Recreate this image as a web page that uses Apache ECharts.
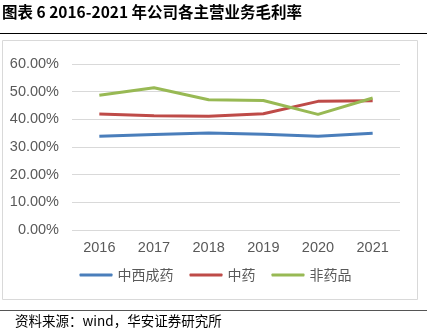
<!DOCTYPE html>
<html><head><meta charset="utf-8">
<script src="https://cdn.jsdelivr.net/npm/echarts@6/dist/echarts.min.js"></script>
<style>html,body{margin:0;padding:0;background:#fff}#c{width:431px;height:330px}</style>
</head><body><div id="c"></div>
<script>
var categories = ['2016','2017','2018','2019','2020','2021'];
var seriesNames = ['中西成药','中药','非药品'];
var zhongxi = [33.9, 34.5, 35.1, 34.6, 33.9, 35.0];
var zhongyao = [41.9, 41.3, 41.1, 42.0, 46.5, 46.7];
var feiyao = [48.7, 51.4, 47.1, 46.8, 41.8, 47.7];
var yTicks = [0, 10, 20, 30, 40, 50, 60];
var colors = ['#4a7ebb', '#be4b48', '#98b954'];

var chart = echarts.init(document.getElementById('c'));
var font = '"Liberation Sans", Arial, sans-serif';
chart.setOption({
  animation: false,
  graphic: [
    {type:'text', left:2, top:4, style:{text:'图表 6 2016-2021 年公司各主营业务毛利率', font:'bold 15.5px "Noto Sans CJK SC", sans-serif', fill:'#000'}},
    {type:'line', shape:{x1:0,y1:33.5,x2:427,y2:33.5}, style:{stroke:'#000', lineWidth:1.2}},
    {type:'rect', shape:{x:2.5,y:40.5,width:415,height:259}, style:{fill:'none', stroke:'#d9d9d9', lineWidth:1}},
    {type:'line', shape:{x1:0,y1:310.5,x2:427,y2:310.5}, style:{stroke:'#555', lineWidth:1}},
    {type:'text', left:15, top:314, style:{text:'资料来源：wind，华安证券研究所', font:'13.5px "Noto Sans CJK SC", sans-serif', fill:'#000'}}
  ],
  grid: {left:72, right:31, top:64, bottom:100},
  legend: {
    data: seriesNames, bottom: 43, left: 'center', itemWidth: 33, itemHeight: 3, itemGap: 16,
    icon: 'roundRect',
    textStyle: {color:'#595959', fontSize:14, fontFamily:'"Noto Sans CJK SC", sans-serif'}
  },
  xAxis: {
    type:'category', data: categories, boundaryGap: true,
    axisLine:{show:false}, axisTick:{show:false},
    axisLabel:{color:'#595959', fontSize:14.5, fontFamily:font, margin:10}
  },
  yAxis: {
    type:'value', min:yTicks[0], max:yTicks[yTicks.length-1], interval:10,
    axisLine:{show:false}, axisTick:{show:false},
    splitLine:{lineStyle:{color:'#d9d9d9', width:1}},
    axisLabel:{color:'#595959', fontSize:14.5, fontFamily:font, margin:13, formatter:function(v){return v.toFixed(2)+'%';}}
  },
  series: [
    {name:seriesNames[0], type:'line', data:zhongxi, symbol:'none', lineStyle:{width:3, color:colors[0]}, itemStyle:{color:colors[0]}},
    {name:seriesNames[1], type:'line', data:zhongyao, symbol:'none', lineStyle:{width:3, color:colors[1]}, itemStyle:{color:colors[1]}},
    {name:seriesNames[2], type:'line', data:feiyao, symbol:'none', lineStyle:{width:3, color:colors[2]}, itemStyle:{color:colors[2]}}
  ]
});
</script></body></html>
